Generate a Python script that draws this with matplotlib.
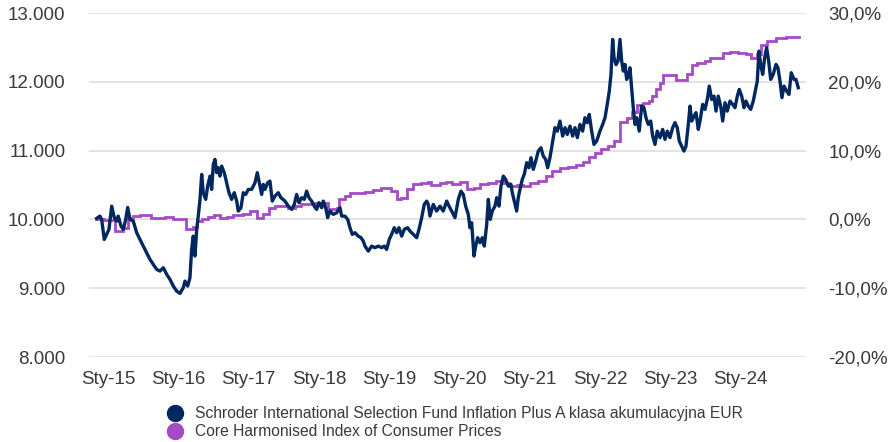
import matplotlib
matplotlib.use("Agg")
import matplotlib.pyplot as plt
from matplotlib.lines import Line2D
from matplotlib.ticker import FixedLocator, FixedFormatter

plt.rcParams['font.family'] = ['Liberation Sans', 'DejaVu Sans']

# ---------------- data ----------------
fund_label = "Schroder International Selection Fund Inflation Plus A klasa akumulacyjna EUR"
cpi_label = "Core Harmonised Index of Consumer Prices"

fund_years = [
    2014.839, 2014.886, 2014.910, 2014.947, 2014.981, 2015.014, 2015.053, 2015.089,
    2015.124, 2015.146, 2015.185, 2015.218, 2015.252, 2015.280, 2015.313, 2015.360,
    2015.408, 2015.455, 2015.502, 2015.550, 2015.597, 2015.644, 2015.693, 2015.740,
    2015.787, 2015.835, 2015.882, 2015.929, 2015.977, 2016.024, 2016.071, 2016.095,
    2016.134, 2016.166, 2016.190, 2016.213, 2016.237, 2016.262, 2016.284, 2016.309,
    2016.333, 2016.355, 2016.390, 2016.418, 2016.451, 2016.475, 2016.498, 2016.522,
    2016.546, 2016.569, 2016.593, 2016.617, 2016.654, 2016.688, 2016.721, 2016.759,
    2016.796, 2016.831, 2016.853, 2016.892, 2016.924, 2016.959, 2016.996, 2017.044,
    2017.091, 2017.124, 2017.162, 2017.186, 2017.209, 2017.233, 2017.272, 2017.304,
    2017.337, 2017.375, 2017.422, 2017.461, 2017.518, 2017.565, 2017.613, 2017.650,
    2017.684, 2017.717, 2017.755, 2017.792, 2017.826, 2017.859, 2017.897, 2017.934,
    2017.968, 2018.001, 2018.040, 2018.062, 2018.097, 2018.125, 2018.158, 2018.205,
    2018.253, 2018.300, 2018.324, 2018.371, 2018.410, 2018.442, 2018.475, 2018.513,
    2018.560, 2018.599, 2018.631, 2018.656, 2018.703, 2018.751, 2018.798, 2018.845,
    2018.893, 2018.930, 2018.964, 2019.001, 2019.035, 2019.072, 2019.107, 2019.139,
    2019.178, 2019.215, 2019.263, 2019.296, 2019.343, 2019.391, 2019.424, 2019.462,
    2019.499, 2019.533, 2019.556, 2019.580, 2019.627, 2019.675, 2019.722, 2019.769,
    2019.818, 2019.851, 2019.889, 2019.936, 2019.983, 2020.021, 2020.054, 2020.088,
    2020.125, 2020.149, 2020.173, 2020.206, 2020.230, 2020.259, 2020.292, 2020.324,
    2020.353, 2020.387, 2020.410, 2020.438, 2020.466, 2020.505, 2020.529, 2020.562,
    2020.590, 2020.623, 2020.657, 2020.694, 2020.732, 2020.751, 2020.779, 2020.813,
    2020.836, 2020.860, 2020.893, 2020.921, 2020.956, 2020.988, 2021.017, 2021.050,
    2021.084, 2021.121, 2021.159, 2021.192, 2021.226, 2021.254, 2021.287, 2021.311,
    2021.334, 2021.358, 2021.391, 2021.429, 2021.468, 2021.501, 2021.533, 2021.572,
    2021.610, 2021.643, 2021.676, 2021.714, 2021.752, 2021.785, 2021.818, 2021.846,
    2021.880, 2021.913, 2021.951, 2021.998, 2022.037, 2022.070, 2022.102, 2022.131,
    2022.155, 2022.179, 2022.198, 2022.226, 2022.254, 2022.283, 2022.307, 2022.330,
    2022.354, 2022.378, 2022.401, 2022.425, 2022.449, 2022.472, 2022.496, 2022.520,
    2022.557, 2022.591, 2022.624, 2022.653, 2022.685, 2022.720, 2022.748, 2022.781,
    2022.813, 2022.852, 2022.890, 2022.923, 2022.956, 2022.994, 2023.033, 2023.065,
    2023.098, 2023.127, 2023.161, 2023.193, 2023.222, 2023.255, 2023.279, 2023.303,
    2023.336, 2023.364, 2023.397, 2023.421, 2023.459, 2023.492, 2023.525, 2023.553,
    2023.587, 2023.620, 2023.649, 2023.681, 2023.715, 2023.744, 2023.777, 2023.809,
    2023.848, 2023.886, 2023.919, 2023.952, 2023.980, 2024.014, 2024.047, 2024.075,
    2024.108, 2024.142, 2024.179, 2024.213, 2024.236, 2024.260, 2024.284, 2024.313,
    2024.341, 2024.369, 2024.398, 2024.427, 2024.463, 2024.502, 2024.530, 2024.559,
    2024.587, 2024.616, 2024.654, 2024.687, 2024.719, 2024.758, 2024.786, 2024.819,
]

fund_values = [
    10015, 10048, 10000, 9709, 9782, 9855, 10193, 10029,
    9975, 10048, 9903, 9855, 10000, 10174, 10000, 9975,
    9807, 9709, 9612, 9516, 9419, 9346, 9273, 9249,
    9298, 9201, 9128, 9031, 8958, 8924, 9007, 9103,
    9031, 9153, 9564, 9757, 9467, 9855, 10048, 10291,
    10654, 10388, 10291, 10484, 10629, 10436, 10799, 10872,
    10679, 10751, 10629, 10775, 10679, 10533, 10388, 10291,
    10388, 10266, 10121, 10170, 10388, 10363, 10436, 10436,
    10533, 10679, 10484, 10363, 10509, 10436, 10533, 10557,
    10266, 10339, 10388, 10315, 10266, 10193, 10145, 10218,
    10363, 10243, 10315, 10291, 10411, 10315, 10266, 10193,
    10145, 10243, 10170, 10266, 10170, 10025, 10121, 10073,
    10097, 10170, 10048, 10048, 10000, 9879, 9782, 9807,
    9757, 9734, 9685, 9612, 9539, 9612, 9589, 9612,
    9589, 9612, 9564, 9709, 9782, 9879, 9807, 9879,
    9757, 9855, 9879, 9830, 9782, 9734, 9855, 10025,
    10218, 10266, 10218, 10048, 10218, 10121, 10193, 10121,
    10266, 10193, 10121, 10025, 10291, 10411, 10363, 10193,
    10073, 9879, 9952, 9467, 9612, 9734, 9661, 9734,
    9612, 9927, 10291, 10000, 10121, 10193, 10315, 10193,
    10484, 10629, 10581, 10484, 10509, 10388, 10266, 10121,
    10315, 10436, 10581, 10654, 10824, 10751, 10897, 10727,
    10847, 10993, 11042, 10920, 10872, 10751, 10897, 11042,
    11188, 11333, 11283, 11429, 11211, 11333, 11235, 11356,
    11211, 11333, 11188, 11381, 11283, 11478, 11406, 11526,
    11283, 11090, 11138, 11283, 11381, 11478, 11672, 11865,
    12108, 12616, 12350, 12250, 12301, 12616, 12301, 12156,
    12253, 12035, 12083, 12205, 11914, 11624, 11381, 11478,
    11283, 11647, 11624, 11478, 11381, 11429, 11211, 11090,
    11283, 11188, 11308, 11163, 11283, 11188, 11333, 11406,
    11333, 11138, 11065, 10993, 11065, 11381, 11647, 11429,
    11501, 11551, 11308, 11429, 11672, 11599, 11744, 11938,
    11744, 11792, 11574, 11792, 11647, 11429, 11696, 11574,
    11720, 11672, 11624, 11792, 11890, 11792, 11624, 11720,
    11647, 11599, 11720, 11890, 12010, 12446, 12253, 12108,
    12350, 12496, 12301, 12035, 12108, 12253, 12205, 12010,
    11769, 11938, 11865, 11817, 12132, 12035, 12035, 11914,
]

cpi_years = [
    2014.829, 2014.943, 2015.028, 2015.100, 2015.213, 2015.284, 2015.356, 2015.455,
    2015.612, 2015.811, 2015.925, 2016.110, 2016.209, 2016.273, 2016.337, 2016.422,
    2016.508, 2016.593, 2016.693, 2016.778, 2016.920, 2016.991, 2017.020, 2017.119,
    2017.205, 2017.290, 2017.376, 2017.560, 2017.660, 2017.745, 2017.945, 2018.129,
    2018.257, 2018.286, 2018.371, 2018.442, 2018.656, 2018.770, 2018.883, 2019.026,
    2019.111, 2019.168, 2019.253, 2019.339, 2019.452, 2019.552, 2019.595, 2019.722,
    2019.808, 2019.893, 2020.007, 2020.107, 2020.206, 2020.292, 2020.405, 2020.519,
    2020.619, 2020.704, 2020.818, 2020.903, 2021.003, 2021.117, 2021.230, 2021.316,
    2021.430, 2021.543, 2021.657, 2021.757, 2021.842, 2021.927, 2022.013, 2022.112,
    2022.198, 2022.283, 2022.383, 2022.454, 2022.525, 2022.610, 2022.696, 2022.738,
    2022.795, 2022.852, 2022.895, 2023.080, 2023.236, 2023.307, 2023.378, 2023.492,
    2023.563, 2023.748, 2023.848, 2023.962, 2024.075, 2024.146, 2024.232, 2024.289,
    2024.374, 2024.502, 2024.644, 2024.801, 2024.829,
]

cpi_pct = [
    0.07, -0.05, -0.15, -1.70, -1.25, 0.25, 0.55, 0.70,
    0.15, 0.35, 0.00, -1.35, -1.05, -0.25, 0.00, 0.30,
    0.65, 0.25, 0.30, 0.70, 0.85, 0.75, 1.15, 0.25,
    0.75, 1.65, 1.95, 1.70, 1.95, 2.20, 2.45, 1.45,
    1.70, 2.90, 3.40, 3.85, 3.95, 4.25, 4.60, 4.10,
    2.90, 3.15, 4.35, 5.10, 5.35, 5.45, 5.05, 5.35,
    5.45, 5.20, 5.45, 4.40, 4.60, 5.10, 5.35, 5.60,
    5.35, 4.85, 4.95, 4.85, 5.35, 5.60, 6.30, 7.05,
    7.40, 7.55, 7.85, 8.30, 9.00, 9.70, 10.20, 10.70,
    11.40, 14.10, 14.80, 15.60, 16.60, 16.85, 17.20, 17.90,
    19.00, 19.80, 21.00, 20.30, 21.20, 22.40, 22.80, 23.00,
    23.40, 24.20, 24.40, 24.20, 24.10, 23.50, 24.10, 25.40,
    26.00, 26.40, 26.55, 26.45, 26.45,
]

x_tick_years = [2015, 2016, 2017, 2018, 2019, 2020, 2021, 2022, 2023, 2024]
x_tick_labels = ["Sty-15", "Sty-16", "Sty-17", "Sty-18", "Sty-19",
                 "Sty-20", "Sty-21", "Sty-22", "Sty-23", "Sty-24"]
left_ticks = [8000, 9000, 10000, 11000, 12000, 13000]
left_labels = ["8.000", "9.000", "10.000", "11.000", "12.000", "13.000"]
right_ticks = [-20, -10, 0, 10, 20, 30]
right_labels = ["-20,0%", "-10,0%", "0,0%", "10,0%", "20,0%", "30,0%"]

# ---------------- style ----------------
NAVY = "#00285e"
PURPLE = "#a54bc6"
GRID = "#e3e3e3"
TXT = "#3a3a3a"

fig = plt.figure(figsize=(8.91, 4.42), dpi=100)
ax = fig.add_axes([89 / 891, 1 - 357 / 442, (806 - 89) / 891, (357 - 13) / 442])
ax2 = ax.twinx()

ax.set_xlim(2014.730, 2024.929)
ax.set_ylim(8000, 13000)
ax2.set_ylim(-20, 30)

for a in (ax, ax2):
    for s in a.spines.values():
        s.set_visible(False)

ax.yaxis.set_major_locator(FixedLocator(left_ticks))
ax.yaxis.set_major_formatter(FixedFormatter(left_labels))
ax2.yaxis.set_major_locator(FixedLocator(right_ticks))
ax2.yaxis.set_major_formatter(FixedFormatter(right_labels))
ax.xaxis.set_major_locator(FixedLocator(x_tick_years))
ax.xaxis.set_major_formatter(FixedFormatter(x_tick_labels))

# grid drawn on the lower (CPI) axes so both lines sit above it
ax2.grid(axis='y', color=GRID, linewidth=1.4)
ax2.set_axisbelow(True)

# fund axes on top of CPI axes
ax.set_zorder(ax2.get_zorder() + 1)
ax.patch.set_visible(False)

ax.tick_params(axis='y', length=0, pad=17, labelsize=13.5, labelcolor=TXT)
ax2.tick_params(axis='y', length=0, pad=16, labelsize=13.5, labelcolor=TXT)
ax.tick_params(axis='x', length=0, pad=10, labelsize=13.5, labelcolor=TXT)

ax2.plot(cpi_years, cpi_pct, drawstyle='steps-post', color=PURPLE,
         linewidth=2.0, solid_joinstyle='miter', zorder=2)
ax.plot(fund_years, fund_values, color=NAVY, linewidth=2.4,
        solid_joinstyle='round', zorder=3)

handles = [
    Line2D([], [], linestyle='none', marker='o', markersize=11.5,
           markerfacecolor=NAVY, markeredgecolor=NAVY),
    Line2D([], [], linestyle='none', marker='o', markersize=11.5,
           markerfacecolor=PURPLE, markeredgecolor=PURPLE),
]
fig.legend(handles, [fund_label, cpi_label], loc='upper left',
           bbox_to_anchor=(167 / 891, 1 - 406 / 442), frameon=False,
           fontsize=11.25, borderpad=0, handlelength=1.0, handletextpad=0.78,
           labelspacing=0.22, labelcolor=TXT, borderaxespad=0)

fig.savefig("out.png", dpi=100)
